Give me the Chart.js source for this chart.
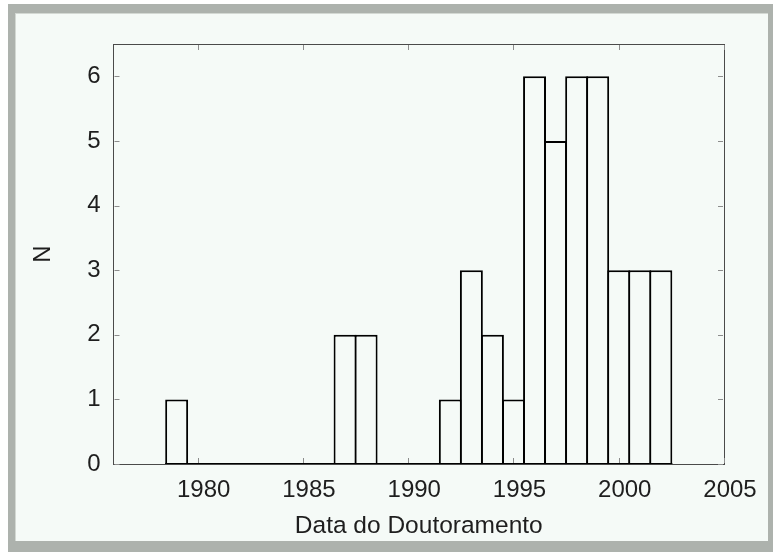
<!DOCTYPE html>
<html>
<head>
<meta charset="utf-8">
<script src="https://cdn.jsdelivr.net/npm/chart.js@4/dist/chart.umd.min.js"></script>
<style>
  html, body { margin: 0; padding: 0; background: #ffffff; }
  .frame { position: absolute; left: 8px; top: 4px; width: 765px; height: 548px; background: #adb2ad; }
  .panel { position: absolute; left: 7px; top: 9px; width: 753px; height: 528px; background: #f5faf7; }
  .panel::before { content: ""; position: absolute; left: 0; top: 0; right: 0; bottom: 0; border-left: 1px solid #d3d8d3; border-top: 1px solid #d3d8d3; pointer-events: none; }
  canvas { position: absolute; left: 0; top: 0; }
</style>
</head>
<body>
<div class="frame">
  <div class="panel">
    <canvas id="hist" width="753" height="528"></canvas>
  </div>
</div>
<script>
// histogram of doctorate years (one bin per year)
const years = [1979, 1980, 1981, 1982, 1983, 1984, 1985, 1986, 1987, 1988, 1989, 1990,
               1991, 1992, 1993, 1994, 1995, 1996, 1997, 1998, 1999, 2000, 2001, 2002];
const counts = [1, 0, 0, 0, 0, 0, 0, 0, 2, 2, 0, 0,
                0, 1, 3, 2, 1, 6, 5, 6, 6, 3, 3, 3];
const xTicks = [1980, 1985, 1990, 1995, 2000, 2005];
const yTicks = [0, 1, 2, 3, 4, 5, 6];
const xRange = [1976, 2005];
const yRange = [0, 6.5];

const FONT = "'Liberation Sans', Arial, Helvetica, sans-serif";
const TEXT = '#1e1e1e';
const FRAME = '#4a4a4a';

// gnuplot style small ticks pointing into the plot on all four sides
const innerTicks = {
    id: 'innerTicks',
    afterDatasetsDraw(chart) {
        const {ctx, chartArea: a, scales: {x, y}} = chart;
        ctx.save();
        ctx.strokeStyle = '#8c8c8c';
        ctx.lineWidth = 1;
        ctx.beginPath();
        x.ticks.forEach(t => {
            const px = Math.round(x.getPixelForValue(t.value)) + 0.5;
            ctx.moveTo(px, a.bottom - 1); ctx.lineTo(px, a.bottom - 6);
            ctx.moveTo(px, a.top + 1); ctx.lineTo(px, a.top + 6);
        });
        y.ticks.forEach(t => {
            const py = Math.round(y.getPixelForValue(t.value)) + 0.5;
            ctx.moveTo(a.left + 1, py); ctx.lineTo(a.left + 6, py);
            ctx.moveTo(a.right - 1, py); ctx.lineTo(a.right - 6, py);
        });
        ctx.stroke();
        ctx.restore();
    }
};

const bins = years.map((yr, i) => ({x: yr, y: counts[i]}));
const baseline = [
    {x: years[0] - 0.5, y: 0},
    {x: years[years.length - 1] + 0.5, y: 0}
];

new Chart(document.getElementById('hist'), {
    type: 'bar',
    data: {
        datasets: [
            {
                type: 'line',
                data: baseline,
                borderColor: '#000000',
                borderWidth: 2,
                borderCapStyle: 'square',
                pointRadius: 0,
                fill: false
            },
            {
                data: bins,
                backgroundColor: '#f5faf7',
                borderColor: '#000000',
                borderWidth: {top: 2, left: 2, right: 2, bottom: 0},
                borderSkipped: 'start',
                barPercentage: 1.09,
                categoryPercentage: 1
            }
        ]
    },
    options: {
        responsive: false,
        animation: false,
        layout: {padding: {left: 0, top: 31, right: 44, bottom: 0}},
        plugins: {
            legend: {display: false},
            tooltip: {enabled: false}
        },
        scales: {
            x: {
                type: 'linear',
                position: 'bottom',
                min: xRange[0],
                max: xRange[1],
                offset: false,
                afterBuildTicks: s => { s.ticks = xTicks.map(v => ({value: v})); },
                afterFit: s => { s.height = 77; },
                grid: {display: false, drawTicks: false},
                border: {display: true, color: FRAME, width: 1},
                ticks: {
                    color: TEXT,
                    font: {family: FONT, size: 24},
                    padding: 12,
                    labelOffset: 6,
                    maxRotation: 0,
                    callback: v => String(v)
                },
                title: {
                    display: true,
                    text: 'Data do Doutoramento',
                    color: TEXT,
                    font: {family: FONT, size: 24.5},
                    padding: {top: 0, bottom: 0}
                }
            },
            x2: {
                type: 'linear',
                position: 'top',
                min: xRange[0],
                max: xRange[1],
                offset: false,
                afterFit: s => { s.height = 0; },
                grid: {display: false, drawTicks: false},
                border: {display: true, color: FRAME, width: 1},
                ticks: {display: false}
            },
            y: {
                type: 'linear',
                position: 'left',
                min: yRange[0],
                max: yRange[1],
                afterBuildTicks: s => { s.ticks = yTicks.map(v => ({value: v})); },
                afterFit: s => { s.width = 98.5; },
                grid: {display: false, drawTicks: false},
                border: {display: true, color: FRAME, width: 1},
                ticks: {
                    color: TEXT,
                    font: {family: FONT, size: 24},
                    padding: 13,
                    callback: v => String(v)
                },
                title: {
                    display: true,
                    text: 'N',
                    color: TEXT,
                    font: {family: FONT, size: 24},
                    padding: {top: 14, bottom: 0}
                }
            },
            y2: {
                type: 'linear',
                position: 'right',
                min: yRange[0],
                max: yRange[1],
                afterFit: s => { s.width = 0; },
                grid: {display: false, drawTicks: false},
                border: {display: true, color: FRAME, width: 1},
                ticks: {display: false}
            }
        }
    },
    plugins: [innerTicks]
});
</script>
</body>
</html>
